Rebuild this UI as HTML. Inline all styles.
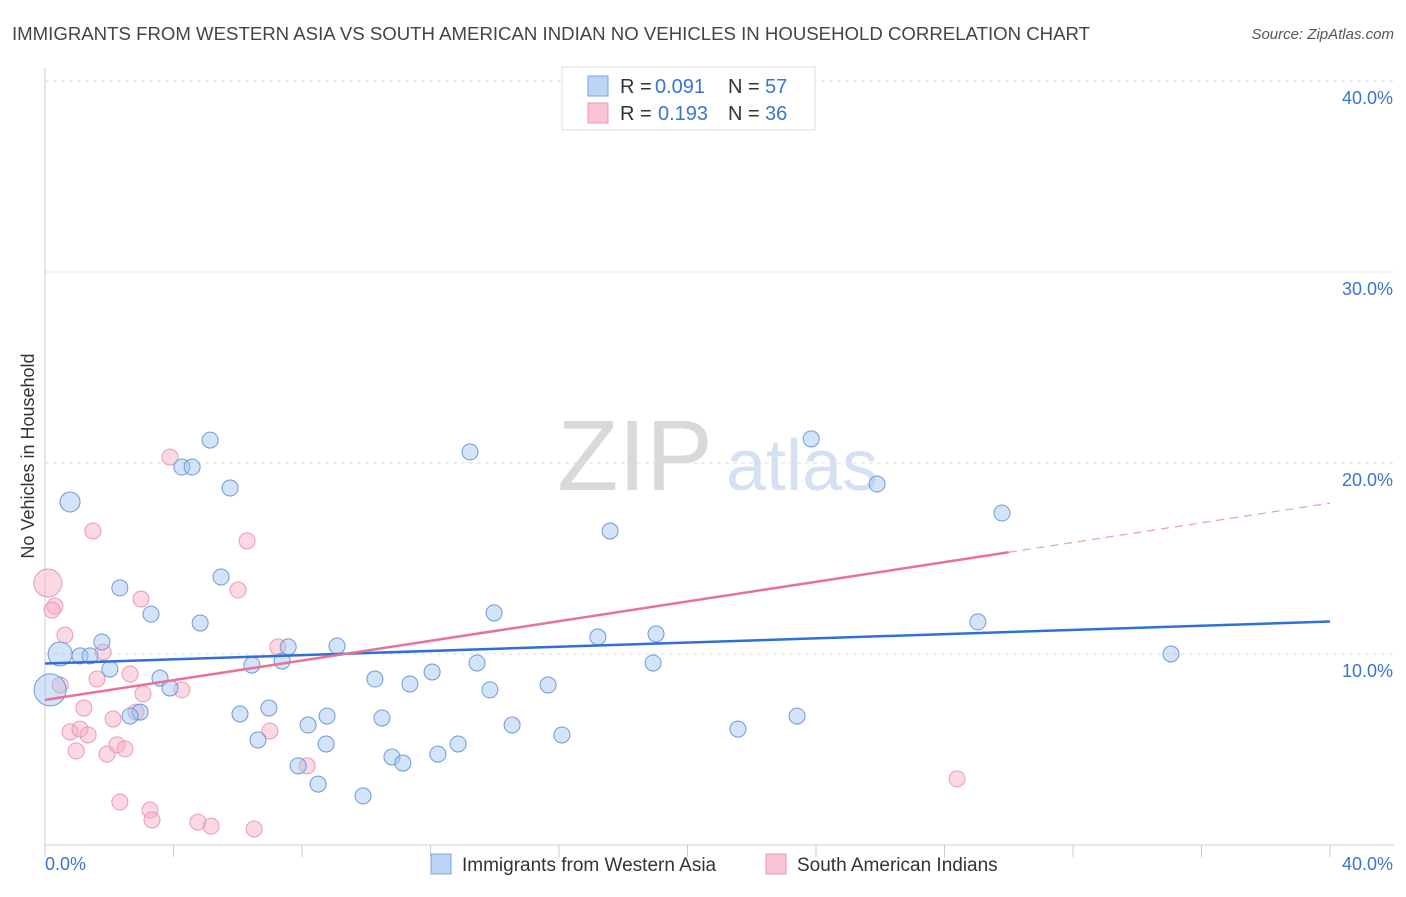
<!DOCTYPE html>
<html><head><meta charset="utf-8"><style>
body{margin:0;background:#fff;font-family:"Liberation Sans",sans-serif;}
svg text{font-family:"Liberation Sans",sans-serif;}
</style></head><body>
<svg id="chart" width="1406" height="892" xmlns="http://www.w3.org/2000/svg">
<text x="12" y="40" font-size="18" fill="#444" textLength="1078" lengthAdjust="spacingAndGlyphs">IMMIGRANTS FROM WESTERN ASIA VS SOUTH AMERICAN INDIAN NO VEHICLES IN HOUSEHOLD CORRELATION CHART</text>
<text x="1394" y="39" font-size="15" fill="#555" text-anchor="end" font-style="italic">Source: ZipAtlas.com</text>
<g>
<text x="635" y="490" font-size="100" fill="#d9d9d9" text-anchor="middle" font-family="Liberation Serif">ZIP</text>
<text x="802" y="490" font-size="72" fill="#d3e1f3" text-anchor="middle">atlas</text>
</g>
<g id="grid"></g>
<g id="axes"></g>
<g id="marks"></g>
<text transform="translate(34,456) rotate(-90)" font-size="18" fill="#333" text-anchor="middle">No Vehicles in Household</text>
<g>
<rect x="562" y="67" width="253" height="63" fill="#fff" stroke="#ddd"/>
<rect x="588" y="76" width="20" height="20" fill="#bcd4f6" stroke="#7aa6e0"/>
<rect x="588" y="103" width="20" height="20" fill="#f9c4d4" stroke="#eb9ab3"/>
<text x="620" y="93" font-size="20" fill="#333">R =</text>
<text x="655" y="93" font-size="20" fill="#3a74d0">0.091</text>
<text x="728" y="93" font-size="20" fill="#333">N =</text>
<text x="765" y="93" font-size="20" fill="#3a74d0">57</text>
<text x="620" y="120" font-size="20" fill="#333">R =</text>
<text x="658" y="120" font-size="20" fill="#3a74d0">0.193</text>
<text x="728" y="120" font-size="20" fill="#333">N =</text>
<text x="765" y="120" font-size="20" fill="#3a74d0">36</text>
</g>
<g>
<rect x="431" y="854" width="20" height="20" fill="#bcd4f6" stroke="#7aa6e0"/>
<text x="462" y="871" font-size="19" fill="#333">Immigrants from Western Asia</text>
<rect x="766" y="854" width="20" height="20" fill="#f9c4d4" stroke="#eb9ab3"/>
<text x="797" y="871" font-size="19" fill="#333">South American Indians</text>
</g>
</svg>
<script>
const blueX=[0.78,0.47,0.16,1.09,1.40,1.77,2.02,2.33,3.30,3.58,3.89,2.96,2.65,4.26,4.58,5.14,5.76,5.48,4.83,6.44,6.07,6.63,6.97,7.38,7.57,7.88,8.19,8.50,8.75,9.09,8.78,9.90,10.27,10.49,10.80,11.14,11.36,12.05,12.23,12.86,13.23,13.45,13.85,13.98,14.54,15.66,16.09,17.21,17.59,18.93,19.02,21.57,23.41,23.85,25.90,29.04,29.79,35.05];
const blueY=[17.96,10.0,8.12,9.9,9.9,10.63,9.21,13.46,12.09,8.74,8.22,6.96,6.75,19.79,19.79,21.2,18.69,14.03,11.62,9.42,6.86,5.50,7.17,9.63,10.37,4.14,6.28,3.19,5.29,10.42,6.75,2.57,8.69,6.65,4.61,4.29,8.43,9.06,4.76,5.29,20.58,9.53,8.12,12.15,6.28,8.38,5.76,10.89,16.44,9.53,11.05,6.07,6.75,21.26,18.9,11.68,17.38,10.0];
const blueR=[10,12,16];
const pinkX=[0.09,0.31,0.22,0.62,0.47,0.78,0.97,1.21,1.09,1.34,1.49,1.62,1.81,1.93,2.12,2.33,2.24,2.49,2.65,2.83,2.99,3.05,3.27,3.33,3.89,4.26,4.76,5.17,6.01,6.29,6.51,7.00,7.25,8.16,28.39];
const pinkY=[13.72,12.51,12.30,10.99,8.38,5.92,4.92,7.17,6.07,5.76,16.44,8.69,10.10,4.76,6.60,2.25,5.24,5.03,8.95,6.96,12.88,7.91,1.83,1.31,20.31,8.12,1.20,0.99,13.35,15.92,0.84,5.97,10.37,4.14,3.46];
const blueTrend=[9.5,11.7];
const pinkTrend=[7.6,17.9];
const yTicks=[10,20,30,40];
const xTickLabels=["0.0%","40.0%"];
const NS="http://www.w3.org/2000/svg";
const sx=v=>45+v/40*1285, sy=v=>845-v*19.1;
function mk(tag,attrs,parent){const e=document.createElementNS(NS,tag);for(const k in attrs)e.setAttribute(k,attrs[k]);document.getElementById(parent).appendChild(e);return e;}
yTicks.forEach(t=>{
 const l=mk('line',{x1:45,x2:1394,y1:sy(t),y2:sy(t),stroke:'#ddd','stroke-dasharray':'4,4'},'grid');
 
 
 const tx=mk('text',{x:1393,y:sy(t)+23,'font-size':18,fill:'#3a74d0','text-anchor':'end'},'grid');tx.textContent=t.toFixed(1)+'%';
 
 
});
mk('line',{x1:45,x2:45,y1:68,y2:845,stroke:'#ccc'},'axes');
mk('line',{x1:45,x2:1394,y1:845,y2:845,stroke:'#ccc'},'axes');
for(let i=0;i<=10;i++){mk('line',{x1:sx(i*4),x2:sx(i*4),y1:845,y2:857,stroke:'#ccc'},'axes');}
const xl0=mk('text',{x:45,y:870,'font-size':18,fill:'#3a74d0'},'axes');xl0.textContent=xTickLabels[0];


const xl1=mk('text',{x:1393,y:870,'font-size':18,fill:'#3a74d0','text-anchor':'end'},'axes');xl1.textContent=xTickLabels[1];


pinkX.forEach((x,i)=>{
 const c=mk('circle',{cx:sx(x),cy:sy(pinkY[i]),r:i===0?14:8,fill:'rgba(246,170,195,0.45)',stroke:'#eb9ab3','stroke-width':1},'marks');
 
 
});
blueX.forEach((x,i)=>{
 const c=mk('circle',{cx:sx(x),cy:sy(blueY[i]),r:blueR[i]||8,fill:'rgba(160,195,240,0.45)',stroke:'#6d9ad8','stroke-width':1},'marks');
 
 
});
const bl=mk('line',{x1:sx(0),y1:sy(blueTrend[0]),x2:sx(40),y2:sy(blueTrend[1]),stroke:'#2f6fd6','stroke-width':2.5},'marks');


const pAt=v=>pinkTrend[0]+(pinkTrend[1]-pinkTrend[0])*v/40;
const pl=mk('line',{x1:sx(0),y1:sy(pAt(0)),x2:sx(30),y2:sy(pAt(30)),stroke:'#e8719a','stroke-width':2.5},'marks');


const pd=mk('line',{x1:sx(30),y1:sy(pAt(30)),x2:sx(40),y2:sy(pAt(40)),stroke:'#eb9ab3','stroke-width':1.2,'stroke-dasharray':'8,6'},'marks');


</script>
</body></html>
